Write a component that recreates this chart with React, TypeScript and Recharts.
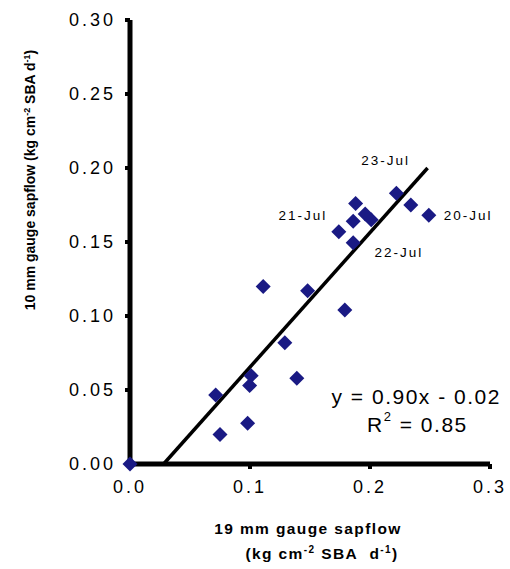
import React from 'react';
import { ScatterChart, Scatter, XAxis, YAxis, ReferenceLine, ReferenceDot } from 'recharts';

const FONT = '"Liberation Sans", Arial, sans-serif';

// 19 mm gauge sapflow (x) and 10 mm gauge sapflow (y)
const gauge19 = [0, 0.0714, 0.075, 0.098, 0.0997, 0.101, 0.111, 0.129, 0.139, 0.148, 0.179, 0.174, 0.186, 0.186, 0.188, 0.196, 0.201, 0.222, 0.234, 0.249];
const gauge10 = [0, 0.0466, 0.020, 0.0275, 0.053, 0.0597, 0.120, 0.082, 0.058, 0.117, 0.104, 0.157, 0.1495, 0.164, 0.176, 0.169, 0.165, 0.183, 0.175, 0.168];

const xTicks = [0, 0.1, 0.2, 0.3];
const yTicks = [0, 0.05, 0.1, 0.15, 0.2, 0.25, 0.3];

// regression line end points
const fitStart = { x: 0.028, y: 0 };
const fitEnd = { x: 0.248, y: 0.2 };

// date annotations
const dateLabels = [
  { text: '23-Jul', x: 0.213, y: 0.205 },
  { text: '21-Jul', x: 0.144, y: 0.1676 },
  { text: '20-Jul', x: 0.2817, y: 0.1676 },
  { text: '22-Jul', x: 0.224, y: 0.1426 },
];

const equation = { text: 'y = 0.90x - 0.02', x: 0.2385, y: 0.0455 };
const rSquared = { value: '0.85', x: 0.2395, y: 0.027 };

const data = gauge19.map((x, i) => ({ x, y: gauge10[i] }));

const Diamond = (props: any) => {
  const { cx, cy } = props;
  const h = 7.5;
  return (
    <path
      d={`M${cx},${cy - h}L${cx + h},${cy}L${cx},${cy + h}L${cx - h},${cy}Z`}
      fill="#1a1a84"
    />
  );
};

const makeText = (text: string, size: number, ls: number) => (props: any) => {
  const vb = props.viewBox || {};
  const cx = vb.x + (vb.width || 0) / 2;
  const cy = vb.y + (vb.height || 0) / 2;
  return (
    <text x={cx} y={cy} textAnchor="middle" dominantBaseline="central" fill="#000" fontSize={size} fontFamily={FONT} letterSpacing={ls}>
      {text}
    </text>
  );
};

const R2Label = (props: any) => {
  const vb = props.viewBox || {};
  const cx = vb.x + (vb.width || 0) / 2;
  const cy = vb.y + (vb.height || 0) / 2;
  return (
    <text x={cx} y={cy} textAnchor="middle" dominantBaseline="central" fill="#000" fontSize={21} fontFamily={FONT} letterSpacing={1.5}>
      R<tspan dy={-8} fontSize={13}>2</tspan>
      <tspan dy={8}>{' = ' + rSquared.value}</tspan>
    </text>
  );
};

const XLabel = (props: any) => {
  const vb = props.viewBox || {};
  const cx = vb.x + vb.width / 2 - 2;
  return (
    <g>
      <text x={cx} y={vb.y + 70} textAnchor="middle" fill="#000" fontSize={15.5} fontWeight="bold" fontFamily={FONT} letterSpacing={1.4}>
        19 mm gauge sapflow
      </text>
      <text x={cx + 14} y={vb.y + 95} textAnchor="middle" fill="#000" fontSize={15.5} fontWeight="bold" fontFamily={FONT} letterSpacing={1.4}>
        (kg cm<tspan dy={-6} fontSize={10}>-2</tspan>
        <tspan dy={6}>{' SBA\u00a0\u00a0d'}</tspan>
        <tspan dy={-6} fontSize={10}>-1</tspan>
        <tspan dy={6}>)</tspan>
      </text>
    </g>
  );
};

const YLabel = (props: any) => {
  const vb = props.viewBox || {};
  const x = 35;
  const y = vb.y + 160;
  return (
    <text x={x} y={y} transform={`rotate(-90, ${x}, ${y})`} textAnchor="middle" fill="#000" fontSize={14} fontWeight="bold" fontFamily={FONT}>
      10 mm gauge sapflow (kg cm<tspan dy={-5} fontSize={9}>-2</tspan>
      <tspan dy={5}>{' SBA d'}</tspan>
      <tspan dy={-5} fontSize={9}>-1</tspan>
      <tspan dy={5}>)</tspan>
    </text>
  );
};

export default function App() {
  return (
    <div style={{ position: 'absolute', left: 0, top: 0, width: 510, height: 569, background: '#fff' }}>
      <ScatterChart width={510} height={569} margin={{ top: 20, right: 20, bottom: 0, left: 0 }}>
        <XAxis
          type="number"
          dataKey="x"
          domain={[0, 0.3]}
          ticks={xTicks}
          tickFormatter={(v: number) => v.toFixed(1)}
          height={105}
          axisLine={{ stroke: '#000', strokeWidth: 5 }}
          tickLine={{ stroke: '#000', strokeWidth: 4 }}
          tickSize={5}
          tickMargin={11}
          tick={{ fill: '#000', fontSize: 18, fontFamily: FONT, letterSpacing: 3 }}
          label={<XLabel />}
        />
        <YAxis
          type="number"
          dataKey="y"
          domain={[0, 0.3]}
          ticks={yTicks}
          tickFormatter={(v: number) => v.toFixed(2)}
          width={130}
          axisLine={{ stroke: '#000', strokeWidth: 5 }}
          tickLine={{ stroke: '#000', strokeWidth: 4 }}
          tickSize={5}
          tickMargin={9}
          tick={{ fill: '#000', fontSize: 18, fontFamily: FONT, letterSpacing: 3 }}
          label={<YLabel />}
        />
        <ReferenceLine segment={[fitStart, fitEnd]} stroke="#000" strokeWidth={3.5} ifOverflow="visible" />
        <Scatter data={data} shape={<Diamond />} isAnimationActive={false} />
        {dateLabels.map((d) => (
          <ReferenceDot key={d.text} x={d.x} y={d.y} r={0.01} fill="none" stroke="none" label={makeText(d.text, 13.5, 2)} />
        ))}
        <ReferenceDot x={equation.x} y={equation.y} r={0.01} fill="none" stroke="none" label={makeText(equation.text, 21, 1.5)} />
        <ReferenceDot x={rSquared.x} y={rSquared.y} r={0.01} fill="none" stroke="none" label={<R2Label />} />
      </ScatterChart>
    </div>
  );
}
